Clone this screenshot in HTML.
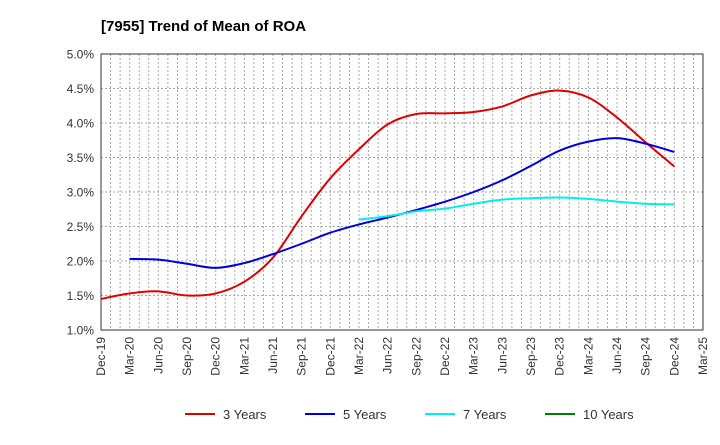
<!DOCTYPE html>
<html><head><meta charset="utf-8"><style>
body{margin:0;background:#fff;font-family:"Liberation Sans",sans-serif;}
svg text{font-family:"Liberation Sans",sans-serif;}
</style></head><body>
<svg id="c" width="720" height="440" xmlns="http://www.w3.org/2000/svg">
<text x="101" y="31" font-size="15" font-weight="bold" fill="#000">[7955]  Trend of Mean of ROA</text>
<g id="grid"></g><g id="axes"></g><g id="series"></g><g id="legend"></g>
</svg>
<script>
const xLabels=["Dec-19","Mar-20","Jun-20","Sep-20","Dec-20","Mar-21","Jun-21","Sep-21","Dec-21","Mar-22","Jun-22","Sep-22","Dec-22","Mar-23","Jun-23","Sep-23","Dec-23","Mar-24","Jun-24","Sep-24","Dec-24","Mar-25"];
const yTicks=[1.0,1.5,2.0,2.5,3.0,3.5,4.0,4.5,5.0];
const y3=[1.45,1.53,1.56,1.50,1.53,1.70,2.05,2.65,3.20,3.62,3.98,4.13,4.14,4.16,4.24,4.40,4.47,4.37,4.08,3.72,3.37];
const y5=[2.03,2.02,1.96,1.90,1.97,2.10,2.25,2.41,2.53,2.63,2.74,2.86,3.00,3.17,3.38,3.60,3.73,3.78,3.70,3.58];
const y7=[2.60,2.65,2.72,2.76,2.83,2.89,2.91,2.92,2.90,2.86,2.83,2.82];
const y10=[];
const L=101,R=703,T=54,B=330,NS="http://www.w3.org/2000/svg";
const xs=i=>L+(R-L)*i/21, ys=v=>B-(B-T)*(v-1)/4;
function mk(t,a,p){const e=document.createElementNS(NS,t);for(const k in a)e.setAttribute(k,a[k]);p.appendChild(e);return e;}
const g=document.getElementById('grid'),ax=document.getElementById('axes'),s=document.getElementById('series'),lg=document.getElementById('legend');
for(let m=1;m<63;m++){const x=L+(R-L)*m/63;const l=mk('line',{x1:x,x2:x,y1:T,y2:B,stroke:'#aaa','stroke-dasharray':'2,2','stroke-width':1},g);}
yTicks.forEach(v=>{const y=ys(v);const l=mk('line',{x1:L,x2:R,y1:y,y2:y,stroke:'#aaa','stroke-dasharray':'2,2'},g);
const t=mk('text',{x:L-7,y:y+4.5,'text-anchor':'end','font-size':12,fill:'#333'},ax);t.textContent=v.toFixed(1)+'%';});
const fr=mk('rect',{x:L,y:T,width:R-L,height:B-T,fill:'none',stroke:'#333'},ax);
xLabels.forEach((lab,i)=>{const x=xs(i);const t=mk('text',{x:0,y:0,'text-anchor':'end','font-size':12,fill:'#333',transform:`translate(${x+4},${B+7}) rotate(-90)`},ax);t.textContent=lab;});
function path(vals,off){const p=vals.map((v,i)=>[xs(i+off),ys(v)]);if(p.length<2)return '';let d=`M${p[0][0]},${p[0][1]}`;for(let i=0;i<p.length-1;i++){const p0=p[i-1]||p[i],p1=p[i],p2=p[i+1],p3=p[i+2]||p2;d+=` C${p1[0]+(p2[0]-p0[0])/6},${p1[1]+(p2[1]-p0[1])/6} ${p2[0]-(p3[0]-p1[0])/6},${p2[1]-(p3[1]-p1[1])/6} ${p2[0]},${p2[1]}`;}return d;}
const ser=[[y3,0,'#e00000','3 Years','series-3-years'],[y5,1,'#0000dd','5 Years','series-5-years'],[y7,9,'#00eeee','7 Years','series-7-years'],[y10,0,'#008000','10 Years','series-10-years']];
ser.forEach(([v,o,c,n,dn],k)=>{if(v.length>1){const p=mk('path',{d:path(v,o),fill:'none',stroke:c,'stroke-width':2},s);}
const lx=[185,305,425,545][k];const li=mk('line',{x1:lx,x2:lx+30,y1:414,y2:414,stroke:c,'stroke-width':2},lg);
const t=mk('text',{x:lx+38,y:419,'font-size':13,fill:'#333'},lg);t.textContent=n;});
</script>
</body></html>
